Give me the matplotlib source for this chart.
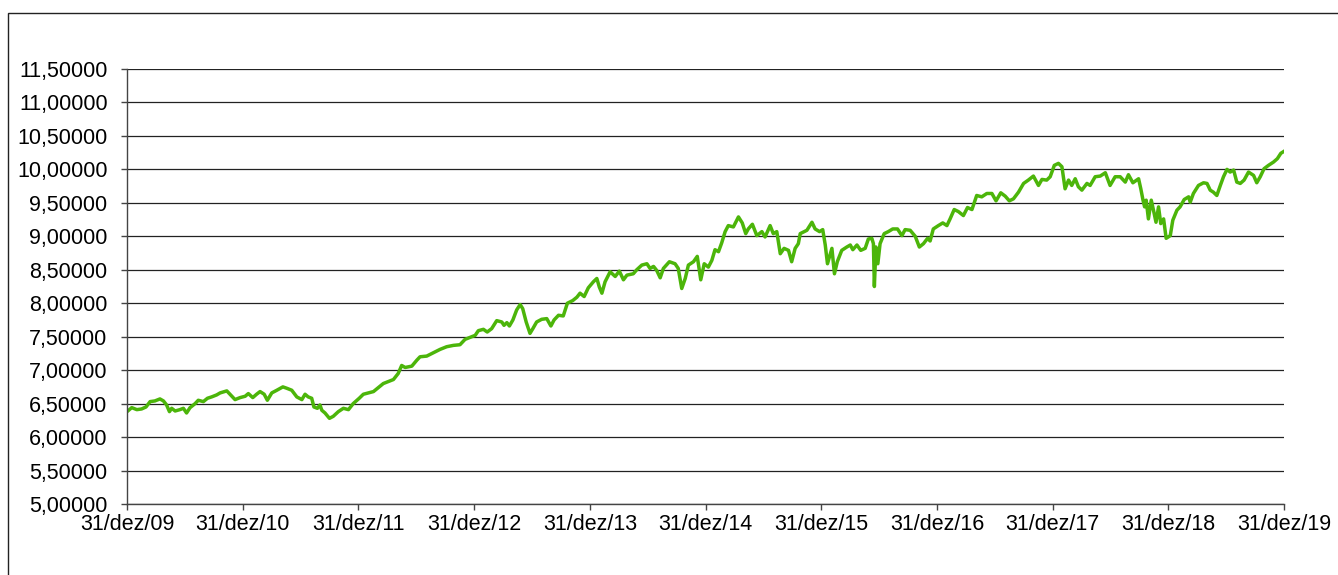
import numpy as np
import pandas as pd
import matplotlib
matplotlib.use("Agg")
import matplotlib.pyplot as plt
import matplotlib.ticker as mticker
from matplotlib.patches import Rectangle

plt.rcParams['font.family'] = ['Liberation Sans', 'DejaVu Sans']

# dias corridos desde 31/dez/09 e valor da cota
start = pd.Timestamp("2009-12-31")
dias = [
    0, 15, 31, 46, 60, 73, 88, 104, 115, 125, 134, 141, 152, 167, 178, 188,
    199, 215, 225, 241, 254, 267, 283, 294, 315, 325, 341, 357, 373, 383,
    397, 409, 420, 433, 443, 457, 473, 492, 504, 520, 536, 552, 562, 572,
    583, 590, 601, 609, 615, 625, 639, 651, 667, 683, 699, 714, 733, 746,
    778, 809, 841, 856, 867, 878, 899, 915, 925, 946, 967, 988, 1009, 1030,
    1051, 1067, 1083, 1099, 1109, 1125, 1137, 1151, 1167, 1183, 1190, 1199,
    1207, 1218, 1230, 1241, 1249, 1260, 1272, 1281, 1293, 1309, 1325, 1338,
    1348, 1362, 1377, 1390, 1407, 1420, 1430, 1443, 1456, 1472, 1483, 1491,
    1499, 1509, 1525, 1541, 1554, 1567, 1578, 1598, 1609, 1625, 1641, 1651,
    1662, 1672, 1683, 1693, 1712, 1730, 1740, 1751, 1762, 1772, 1788, 1800,
    1811, 1822, 1835, 1846, 1856, 1867, 1877, 1888, 1898, 1914, 1930, 1942,
    1953, 1961, 1974, 1988, 2004, 2014, 2030, 2040, 2051, 2062, 2074, 2088,
    2098, 2109, 2119, 2125, 2146, 2162, 2172, 2186, 2196, 2204, 2211, 2217,
    2225, 2233, 2242, 2256, 2272, 2283, 2291, 2304, 2316, 2330, 2340, 2351,
    2356, 2359, 2364, 2370, 2377, 2390, 2403, 2417, 2432, 2446, 2456, 2472,
    2488, 2501, 2514, 2527, 2535, 2545, 2561, 2575, 2588, 2598, 2611, 2624,
    2640, 2653, 2667, 2682, 2698, 2714, 2730, 2743, 2758, 2772, 2785, 2798,
    2814, 2830, 2845, 2861, 2877, 2888, 2903, 2914, 2927, 2940, 2951, 2961,
    2972, 2982, 2993, 3003, 3014, 3030, 3040, 3056, 3072, 3088, 3103, 3119,
    3135, 3151, 3161, 3175, 3193, 3200, 3207, 3212, 3217, 3224, 3233, 3240,
    3248, 3256, 3263, 3272, 3280, 3293, 3301, 3314, 3324, 3337, 3351, 3356,
    3366, 3382, 3398, 3409, 3419, 3429, 3440, 3451, 3461, 3472, 3482, 3493,
    3503, 3514, 3526, 3540, 3556, 3566, 3577, 3589, 3603, 3619, 3631, 3642,
    3652,
]
cota = [
    6.38, 6.44, 6.41, 6.42, 6.45, 6.53, 6.54, 6.57, 6.54, 6.48, 6.38, 6.43,
    6.39, 6.41, 6.43, 6.36, 6.44, 6.50, 6.55, 6.53, 6.58, 6.60, 6.63, 6.66,
    6.69, 6.64, 6.56, 6.59, 6.61, 6.65, 6.59, 6.64, 6.68, 6.64, 6.55, 6.66,
    6.70, 6.75, 6.73, 6.70, 6.60, 6.56, 6.64, 6.60, 6.58, 6.45, 6.43, 6.48,
    6.40, 6.36, 6.28, 6.31, 6.38, 6.43, 6.41, 6.50, 6.58, 6.64, 6.68, 6.80,
    6.86, 6.95, 7.07, 7.04, 7.06, 7.15, 7.20, 7.21, 7.26, 7.31, 7.35, 7.37,
    7.38, 7.46, 7.49, 7.52, 7.59, 7.61, 7.57, 7.62, 7.74, 7.72, 7.67, 7.71,
    7.66, 7.75, 7.90, 7.98, 7.92, 7.72, 7.55, 7.62, 7.72, 7.76, 7.77, 7.66,
    7.75, 7.82, 7.81, 8.00, 8.04, 8.09, 8.15, 8.10, 8.23, 8.32, 8.37, 8.24,
    8.15, 8.32, 8.47, 8.40, 8.48, 8.35, 8.42, 8.44, 8.50, 8.57, 8.59, 8.52,
    8.55, 8.49, 8.38, 8.52, 8.62, 8.59, 8.52, 8.22, 8.37, 8.57, 8.62, 8.70,
    8.35, 8.59, 8.54, 8.64, 8.80, 8.77, 8.90, 9.07, 9.16, 9.14, 9.29, 9.20,
    9.04, 9.11, 9.18, 9.01, 9.07, 8.99, 9.16, 9.04, 9.07, 8.74, 8.82, 8.79,
    8.62, 8.82, 8.89, 9.04, 9.09, 9.21, 9.11, 9.07, 9.10, 8.87, 8.59, 8.69,
    8.82, 8.44, 8.62, 8.79, 8.84, 8.87, 8.80, 8.87, 8.79, 8.82, 8.96, 8.97,
    8.89, 8.25, 8.84, 8.59, 8.89, 9.04, 9.07, 9.11, 9.11, 9.01, 9.10, 9.09,
    9.00, 8.84, 8.89, 8.97, 8.93, 9.11, 9.16, 9.20, 9.16, 9.26, 9.40, 9.37,
    9.31, 9.43, 9.40, 9.61, 9.59, 9.64, 9.64, 9.53, 9.65, 9.60, 9.53, 9.56,
    9.66, 9.79, 9.84, 9.90, 9.76, 9.85, 9.84, 9.89, 10.06, 10.09, 10.04, 9.71,
    9.84, 9.76, 9.86, 9.74, 9.69, 9.79, 9.76, 9.89, 9.90, 9.95, 9.76, 9.89,
    9.89, 9.81, 9.92, 9.80, 9.86, 9.71, 9.54, 9.44, 9.54, 9.26, 9.54, 9.39,
    9.21, 9.44, 9.19, 9.26, 8.97, 9.01, 9.24, 9.39, 9.44, 9.55, 9.59, 9.51,
    9.64, 9.76, 9.80, 9.79, 9.69, 9.66, 9.61, 9.76, 9.89, 10.00, 9.96, 9.99,
    9.81, 9.79, 9.84, 9.96, 9.91, 9.80, 9.89, 10.01, 10.06, 10.11, 10.16, 10.24,
    10.27,
]
anos = list(range(2009, 2020))
rotulos_x = ["31/dez/%02d" % (a % 100) for a in anos]

datas = start + pd.to_timedelta(dias, unit="D")
ticks_x = [pd.Timestamp(a, 12, 31) for a in anos]

fig = plt.figure(figsize=(13.38, 5.75), dpi=100)
ax = fig.add_axes([127 / 1338, 71 / 575, 1157 / 1338, 435 / 575])

ax.plot(datas, cota, color="#4cb50a", lw=2.5, solid_joinstyle="round")

ax.set_ylim(5.0, 11.5)
ax.set_yticks(np.arange(5.0, 11.51, 0.5))
ax.yaxis.set_major_formatter(
    mticker.FuncFormatter(lambda v, p: ("%.5f" % v).replace(".", ",")))
ax.set_xlim(ticks_x[0], ticks_x[-1])
ax.set_xticks(ticks_x)
ax.set_xticklabels(rotulos_x)

ax.grid(axis="y", color="#222222", lw=0.9)
ax.set_axisbelow(True)
for s in ["top", "right"]:
    ax.spines[s].set_visible(False)
for s in ["left", "bottom"]:
    ax.spines[s].set_color("#444444")
    ax.spines[s].set_linewidth(1.0)

ax.tick_params(axis="y", length=4, width=1, color="#444444", pad=10,
               labelsize=15.5, labelcolor="black")
ax.tick_params(axis="x", length=4, width=1, color="#444444", pad=3,
               labelsize=15.5, labelcolor="black")

# moldura do grafico
fig.patches.append(Rectangle((8 / 1338, -0.1), 1.2, 1.1 - 13 / 575,
                             transform=fig.transFigure, fill=False,
                             edgecolor="#222222", lw=1.0, clip_on=False))

fig.savefig("out.png", dpi=100)
